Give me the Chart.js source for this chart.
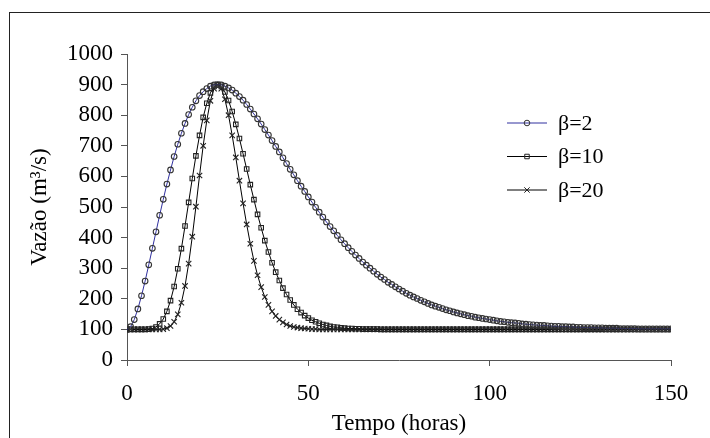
<!DOCTYPE html>
<html>
<head>
<meta charset="utf-8">
<script src="https://cdn.jsdelivr.net/npm/chart.js@4.4.1/dist/chart.umd.min.js"></script>
<style>
  body { margin: 0; background: #fff; }
  #wrap { position: relative; width: 710px; height: 438px; overflow: hidden; }
  #frame { position: absolute; left: 9px; top: 12px; width: 760px; height: 480px;
           border-left: 1.5px solid #222; border-top: 1.5px solid #222; }
  canvas { position: absolute; left: 0; top: 0; }
</style>
</head>
<body>
<div id="wrap">
  <div id="frame"></div>
  <canvas id="hidrograma" width="710" height="438"></canvas>
</div>
<script>
// tempo em horas (passo de 1 h)
const horas = Array.from({ length: 151 }, (_, i) => i);

// vazões (m3/s)
const beta2 = [
  100, 109, 132, 167, 210, 258, 311, 365, 419, 473,
  525, 575, 621, 665, 705, 741, 773, 802, 826, 847,
  864, 877, 887, 895, 899, 900, 899, 895, 889, 882,
  872, 861, 849, 835, 820, 804, 788, 771, 753, 735,
  717, 698, 680, 661, 642, 623, 605, 586, 568, 551,
  533, 516, 499, 483, 467, 451, 436, 422, 407, 393,
  380, 367, 355, 343, 332, 320, 310, 300, 290, 280,
  271, 263, 254, 247, 239, 232, 225, 218, 212, 206,
  201, 195, 190, 185, 180, 176, 172, 168, 164, 161,
  157, 154, 151, 148, 145, 143, 140, 138, 136, 134,
  132, 130, 128, 126, 125, 123, 122, 121, 120, 118,
  117, 116, 115, 114, 113, 113, 112, 111, 110, 110,
  109, 109, 108, 108, 107, 107, 106, 106, 106, 105,
  105, 105, 104, 104, 104, 104, 103, 103, 103, 103,
  103, 102, 102, 102, 102, 102, 102, 102, 102, 102,
  102
];

const beta10 = [
  100, 100, 100, 100, 100, 100, 101, 103, 108, 118,
  134, 159, 194, 240, 298, 364, 438, 515, 593, 667,
  734, 793, 839, 873, 894, 900, 894, 876, 848, 812,
  770, 724, 674, 624, 573, 524, 476, 432, 390, 353,
  318, 287, 260, 235, 214, 196, 180, 166, 155, 145,
  137, 130, 125, 120, 116, 113, 110, 108, 107, 105,
  104, 103, 103, 102, 102, 101, 101, 101, 101, 101,
  100, 100, 100, 100, 100, 100, 100, 100, 100, 100,
  100, 100, 100, 100, 100, 100, 100, 100, 100, 100,
  100, 100, 100, 100, 100, 100, 100, 100, 100, 100,
  100, 100, 100, 100, 100, 100, 100, 100, 100, 100,
  100, 100, 100, 100, 100, 100, 100, 100, 100, 100,
  100, 100, 100, 100, 100, 100, 100, 100, 100, 100,
  100, 100, 100, 100, 100, 100, 100, 100, 100, 100,
  100, 100, 100, 100, 100, 100, 100, 100, 100, 100,
  100
];

const beta20 = [
  100, 100, 100, 100, 100, 100, 100, 100, 100, 100,
  101, 104, 111, 125, 149, 187, 242, 315, 403, 501,
  603, 700, 783, 847, 887, 900, 887, 852, 800, 734,
  662, 586, 512, 443, 380, 324, 277, 238, 206, 180,
  159, 144, 132, 123, 116, 111, 108, 106, 104, 103,
  102, 101, 101, 100, 100, 100, 100, 100, 100, 100,
  100, 100, 100, 100, 100, 100, 100, 100, 100, 100,
  100, 100, 100, 100, 100, 100, 100, 100, 100, 100,
  100, 100, 100, 100, 100, 100, 100, 100, 100, 100,
  100, 100, 100, 100, 100, 100, 100, 100, 100, 100,
  100, 100, 100, 100, 100, 100, 100, 100, 100, 100,
  100, 100, 100, 100, 100, 100, 100, 100, 100, 100,
  100, 100, 100, 100, 100, 100, 100, 100, 100, 100,
  100, 100, 100, 100, 100, 100, 100, 100, 100, 100,
  100, 100, 100, 100, 100, 100, 100, 100, 100, 100,
  100
];

const rotulos = ['β=2', 'β=10', 'β=20'];
const xTicks = [0, 50, 100, 150];

const fonte = '"Liberation Serif", "Times New Roman", serif';

function pontos(valores) {
  return horas.map((h, i) => ({ x: h, y: valores[i] }));
}

// legenda desenhada dentro da área do gráfico
const legendaInterna = {
  id: 'legendaInterna',
  afterDatasetsDraw(chart) {
    const ctx = chart.ctx;
    ctx.save();
    chart.data.datasets.forEach((ds, i) => {
      const y = 123 + i * 33.5;
      ctx.strokeStyle = ds.borderColor;
      ctx.lineWidth = 1;
      ctx.beginPath();
      ctx.moveTo(507, y);
      ctx.lineTo(547, y);
      ctx.stroke();
      ctx.strokeStyle = ds.pointBorderColor;
      ctx.fillStyle = 'rgba(0,0,0,0)';
      ctx.lineWidth = 1;
      Chart.helpers.drawPoint(ctx, {
        pointStyle: ds.pointStyle, radius: ds.pointRadius, rotation: 0, borderWidth: 1
      }, 527, y);
      ctx.fillStyle = '#000';
      ctx.font = '22px ' + fonte;
      ctx.textBaseline = 'middle';
      ctx.textAlign = 'left';
      ctx.fillText(ds.label, 558, y + 1);
    });
    ctx.restore();
  }
};

const ctx = document.getElementById('hidrograma').getContext('2d');
new Chart(ctx, {
  type: 'line',
  data: {
    datasets: [
      {
        label: rotulos[0], data: pontos(beta2),
        borderColor: '#30309f', borderWidth: 1,
        pointStyle: 'circle', pointRadius: 2.8, pointBorderWidth: 1.1,
        pointBorderColor: '#333', pointBackgroundColor: 'rgba(0,0,0,0)'
      },
      {
        label: rotulos[1], data: pontos(beta10),
        borderColor: '#000', borderWidth: 1,
        pointStyle: 'rect', pointRadius: 3.2, pointBorderWidth: 1.1,
        pointBorderColor: '#222', pointBackgroundColor: 'rgba(0,0,0,0)'
      },
      {
        label: rotulos[2], data: pontos(beta20),
        borderColor: '#000', borderWidth: 1,
        pointStyle: 'crossRot', pointRadius: 3.8, pointBorderWidth: 1.1,
        pointBorderColor: '#222', pointBackgroundColor: 'rgba(0,0,0,0)'
      }
    ]
  },
  options: {
    responsive: false,
    animation: false,
    devicePixelRatio: 1,
    layout: { padding: { top: 54, right: 39, left: 0, bottom: 0 } },
    elements: { line: { tension: 0 } },
    plugins: {
      legend: { display: false },
      tooltip: { enabled: false }
    },
    scales: {
      x: {
        type: 'linear', min: 0, max: 150,
        afterBuildTicks: s => { s.ticks = xTicks.map(v => ({ value: v })); },
        afterFit: s => { s.height = 78; },
        ticks: { color: '#000', padding: 14, font: { family: fonte, size: 23 },
                 callback: v => String(v) },
        grid: { drawOnChartArea: false, drawTicks: true, tickLength: 6, color: '#555' },
        border: { color: '#555', width: 1 },
        title: { display: true, text: 'Tempo (horas)', color: '#000', padding: 0,
                 font: { family: fonte, size: 23 } }
      },
      y: {
        min: 0, max: 1000,
        afterFit: s => { s.width = 127; },
        ticks: { stepSize: 100, color: '#000', padding: 8, font: { family: fonte, size: 23 },
                 callback: v => String(v) },
        grid: { drawOnChartArea: false, drawTicks: true, tickLength: 6, color: '#555' },
        border: { color: '#555', width: 1 },
        title: { display: true, text: 'Vazão (m³/s)', color: '#000', padding: { top: 26, bottom: 0 },
                 font: { family: fonte, size: 23 } }
      }
    }
  },
  plugins: [legendaInterna]
});
</script>
</body>
</html>
